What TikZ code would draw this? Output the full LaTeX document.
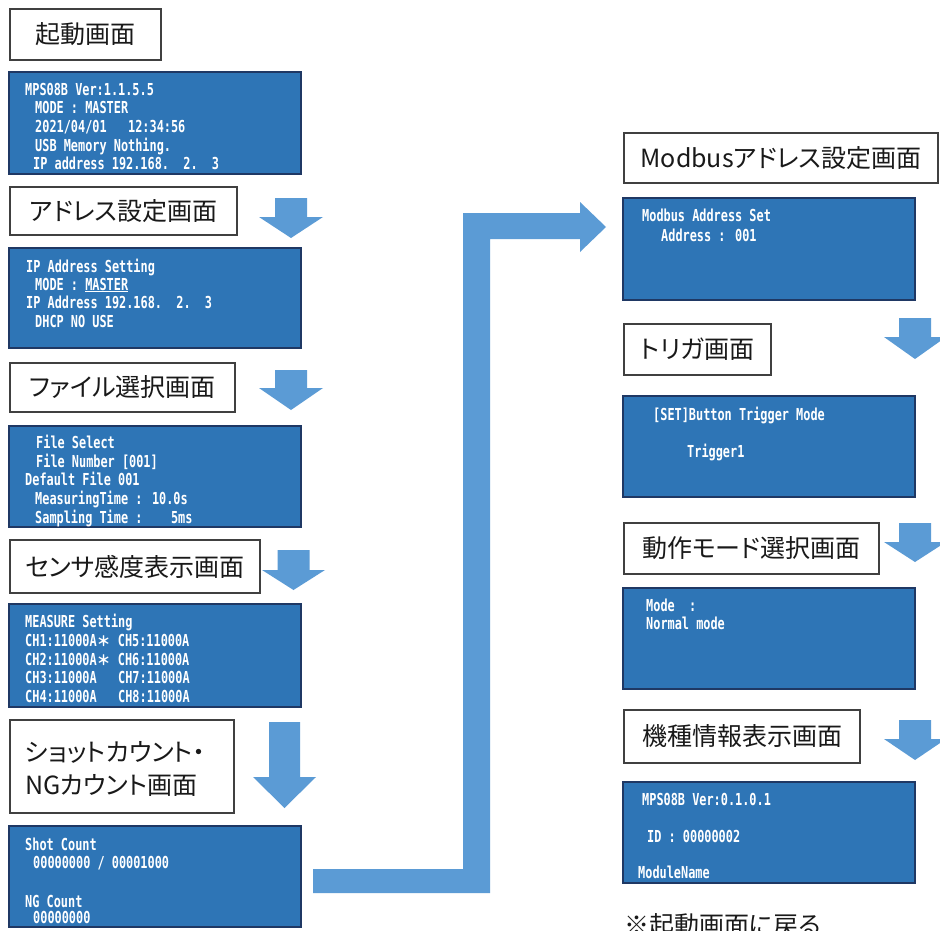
\documentclass[tikz,border=0pt]{standalone}
\usepackage{fontspec}
\newfontfamily\jp[RawFeature=+palt]{Noto Sans CJK JP}
\newfontfamily\jpplain{Noto Sans CJK JP}
\newfontfamily\lcdfont[FakeStretch=0.72]{DejaVu Sans Mono}
\definecolor{titleborder}{HTML}{404040}
\definecolor{scrfill}{HTML}{2E75B6}
\definecolor{scrborder}{HTML}{1F3864}
\definecolor{arrowc}{HTML}{5B9BD5}
\newcommand\blockarrow[8]{% shaftL shaftR headL headR tipx top headbase tipy
  \fill[arrowc] (#1,#6) -- (#2,#6) -- (#2,#7) -- (#4,#7) -- (#5,#8) -- (#3,#7) -- (#1,#7) -- cycle;}
\newcommand\lcdline[4]{\node[lcd] (#1) at (#2,#3) {#4};}
\begin{document}
\begin{tikzpicture}[x=1pt,y=-1pt,
  titlebox/.style={draw=titleborder, line width=1.1pt, fill=white, inner sep=0pt,
    font=\jp\fontsize{25}{29}\selectfont, text=black!90},
  titletext/.style={inner sep=0pt, anchor=west, font=\jp\fontsize{25}{29}\selectfont, text=black!90},
  screen/.style={draw=scrborder, line width=1.8pt, fill=scrfill, inner sep=0pt, minimum width=292},
  lcd/.style={text=white, inner sep=0pt, anchor=base west,
    font=\lcdfont\bfseries\fontsize{16.5}{19}\selectfont},
  ]
\clip (0,0) rectangle (940,931);
\fill[white] (0,0) rectangle (940,931);

% ---------- left column ----------
\node[titlebox, minimum width=151, minimum height=51] (t1) at (85.5,34.5) {起動画面};
\node[screen, minimum height=102] (s1) at (155,123) {};
\lcdline{s1a}{25}{96}{MPS08B Ver:1.1.5.5}
\lcdline{s1b}{35}{114}{MODE : MASTER}
\lcdline{s1c}{35}{133}{2021/04/01~~~12:34:56}
\lcdline{s1d}{35}{152}{USB Memory Nothing.}
\lcdline{s1e}{33}{170}{IP address 192.168.~~2.~~3}

\node[titlebox, minimum width=227, minimum height=48] (t2) at (123.5,211) {アドレス設定画面};
\blockarrow{275}{307}{259}{323}{291}{198}{217}{238}
\node[screen, minimum height=100] (s2) at (155,298) {};
\lcdline{s2a}{26}{272}{IP Address Setting}
\lcdline{s2b}{35}{290}{MODE : \underline{MASTER}}
\lcdline{s2c}{26}{308}{IP Address 192.168.~~2.~~3}
\lcdline{s2d}{35}{327}{DHCP NO USE}

\node[titlebox, minimum width=225, minimum height=49] (t3) at (122.5,387.5) {ファイル選択画面};
\blockarrow{275}{307}{259}{323}{291}{370}{388}{410}
\node[screen, minimum height=101] (s3) at (155,476.5) {};
\lcdline{s3a}{36}{448}{File Select}
\lcdline{s3b}{36}{467}{File Number [001]}
\lcdline{s3c}{25}{485}{Default File 001}
\lcdline{s3d}{35}{504}{MeasuringTime : 10.0s}
\lcdline{s3e}{35}{523}{Sampling Time :~~~~5ms}

\node[titlebox, minimum width=250, minimum height=53] (t4) at (135,566.5) {センサ感度表示画面};
\blockarrow{277.5}{309.5}{262}{325}{293.5}{550}{570}{590}
\node[screen, minimum height=103] (s4) at (155,655.5) {};
\lcdline{s4a}{25}{627}{MEASURE Setting}
\lcdline{s4b}{25}{646}{CH1:11000A{\jpplain\fontsize{14}{14}\selectfont ＊} CH5:11000A}
\lcdline{s4c}{25}{665}{CH2:11000A{\jpplain\fontsize{14}{14}\selectfont ＊} CH6:11000A}
\lcdline{s4d}{25}{683}{CH3:11000A~~~CH7:11000A}
\lcdline{s4e}{25}{702}{CH4:11000A~~~CH8:11000A}

\node[titlebox, minimum width=224, minimum height=93] (t5) at (122,766.5) {};
\node[titletext] (t5a) at (25,752) {ショットカウント・};
\node[titletext] (t5b) at (25,785) {NGカウント画面};
\blockarrow{269}{300}{253}{316}{284.5}{722}{777}{808}
\node[screen, minimum height=101] (s5) at (155,876.5) {};
\lcdline{s5a}{25}{850}{Shot Count}
\lcdline{s5b}{33}{868}{00000000 / 00001000}
\lcdline{s5c}{25}{907}{NG Count}
\lcdline{s5d}{33}{923}{00000000}

% ---------- big L arrow ----------
\fill[arrowc] (313,869) -- (463,869) -- (463,213) -- (580,213) -- (580,202)
  -- (606,227) -- (580,252) -- (580,239) -- (490,239) -- (490,893) -- (313,893) -- cycle;

% ---------- right column ----------
\node[titlebox, minimum width=314, minimum height=50] (r1) at (781,158) {Modbusアドレス設定画面};
\node[screen, minimum height=102] (q1) at (769,249) {};
\lcdline{q1a}{642}{222}{Modbus Address Set}
\lcdline{q1b}{661}{241}{Address : 001}

\node[titlebox, minimum width=147, minimum height=51] (r2) at (697.5,349.5) {トリガ画面};
\blockarrow{899}{931}{884}{946}{915}{318}{337}{359}
\node[screen, minimum height=101] (q2) at (769,446.5) {};
\lcdline{q2a}{653}{420}{[SET]Button Trigger Mode}
\lcdline{q2b}{687}{457}{Trigger1}

\node[titlebox, minimum width=255, minimum height=51] (r3) at (751.5,548.5) {動作モード選択画面};
\blockarrow{899}{931}{884}{946}{915}{523}{542}{562}
\node[screen, minimum height=101] (q3) at (769,638.5) {};
\lcdline{q3a}{646}{611}{Mode~~:}
\lcdline{q3b}{646}{629}{Normal mode}

\node[titlebox, minimum width=236, minimum height=53] (r4) at (742,736.5) {機種情報表示画面};
\blockarrow{899}{931}{884}{946}{915}{720}{739}{760}
\node[screen, minimum height=101] (q4) at (769,832.5) {};
\lcdline{q4a}{642}{805}{MPS08B Ver:0.1.0.1}
\lcdline{q4b}{647}{842}{ID : 00000002}
\lcdline{q4c}{638}{878}{ModuleName}

\node[titletext, font=\jp\fontsize{25}{29}\selectfont] (back) at (624,925) {※起動画面に戻る};
\end{tikzpicture}
\end{document}
